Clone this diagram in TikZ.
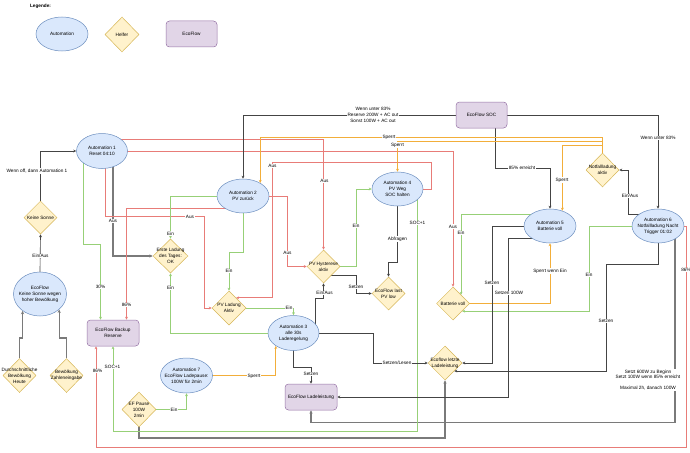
\documentclass[tikz,border=0pt]{standalone}
\usepackage{fontspec}
\setmainfont{Liberation Sans}
\usetikzlibrary{shapes.geometric,arrows.meta}
\definecolor{autoF}{HTML}{DAE8FC}\definecolor{autoD}{HTML}{6C8EBF}
\definecolor{helfF}{HTML}{FFF2CC}\definecolor{helfD}{HTML}{D6B656}
\definecolor{ecoF}{HTML}{E1D5E7}\definecolor{ecoD}{HTML}{9673A6}
\definecolor{lineG}{HTML}{444444}\definecolor{lineT}{HTML}{7A7A7A}
\definecolor{lineR}{HTML}{E87C78}\definecolor{lineGr}{HTML}{97D077}
\definecolor{lineO}{HTML}{F2AE3A}
\pgfdeclarelayer{bgl}\pgfdeclarelayer{edg}
\pgfsetlayers{bgl,edg,main}
\begin{document}
\begin{tikzpicture}[x=1pt,y=-1pt,
  every node/.style={font=\fontsize{4.7}{6}\selectfont},
  txt/.style={align=center,inner sep=0pt},
  autom/.style={ellipse,draw=autoD,fill=autoF,line width=0.5pt,inner sep=0pt,minimum width=52pt,minimum height=34pt},
  helfer/.style={diamond,draw=helfD,fill=helfF,line width=0.5pt,inner sep=0pt,minimum width=34pt,minimum height=34pt},
  ecof/.style={rectangle,rounded corners=3.5pt,draw=ecoD,fill=ecoF,line width=0.5pt,inner sep=0pt,minimum width=52pt,minimum height=26pt},
  tip/.style={-{Stealth[length=3pt,width=2.8pt]}},
  gl/.style={draw=lineG,line width=0.65pt,tip},
  gthick/.style={draw=lineT,line width=1.2pt,-{Stealth[length=3.4pt,width=3.2pt]}},
  rl/.style={draw=lineR,line width=0.75pt,tip},
  grl/.style={draw=lineGr,line width=0.75pt,tip},
  ol/.style={draw=lineO,line width=0.75pt,tip},
  elab/.style={fill=white,inner sep=0.5pt,align=center}]
\useasboundingbox (0,0) rectangle (690,452);
\begin{pgfonlayer}{bgl}
\fill[white] (0,0) rectangle (690,452);
\end{pgfonlayer}
% legend
\node[txt,font=\fontsize{4.7}{6}\selectfont\bfseries] (legt) at (40.5,6) {Legende:};
\node[autom,label={[txt]center:Automation}] (legA) at (62,34) {};
\node[helfer,minimum height=35pt,label={[txt]center:Helfer}] (legH) at (122,34.5) {};
\node[ecof,minimum width=51pt,label={[txt]center:EcoFlow}] (legE) at (191.5,34) {};
% main nodes
\node[autom,minimum width=51pt,minimum height=35pt,label={[txt]center:{Automation 1\\Reset 04:10}}] (a1) at (102,151) {};
\node[helfer,minimum width=33pt,minimum height=33pt,label={[txt]center:{Keine Sonne}}] (ks) at (40.5,217.5) {};
\node[autom,minimum width=53pt,minimum height=44pt,label={[txt]center:{EcoFlow\\Keine Sonne wegen\\hoher Bewölkung}}] (efks) at (40,294) {};
\node[helfer,minimum width=33pt,label={[txt]center:{Durchschnittliche\\Bewölkung\\Heute}}] (dbh) at (19.5,375.5) {};
\node[helfer,minimum width=33pt,label={[txt]center:{Bewölkung\\Zahleneingabe}}] (bz) at (66.5,375.5) {};
\node[ecof,label={[txt]center:{EcoFlow Backup\\Reserve}}] (res) at (113,333) {};
\node[helfer,minimum width=35pt,label={[txt]center:{Erste Ladung\\des Tages:\\OK}}] (elt) at (170.5,256) {};
\node[autom,label={[txt]center:{Automation 2\\PV zurück}}] (a2) at (243,196) {};
\node[helfer,label={[txt]center:{PV Ladung\\Aktiv}}] (pvl) at (229,308) {};
\node[autom,minimum width=51pt,minimum height=35pt,label={[txt]center:{Automation 3\\alle 30s\\Laderegelung}}] (a3) at (293.5,333) {};
\node[helfer,minimum width=33pt,minimum height=33pt,label={[txt]center:{PV Hysterese\\aktiv}}] (pvh) at (323.5,266.5) {};
\node[helfer,minimum width=33pt,minimum height=33pt,label={[txt]center:{EcoFlow last\\PV low}}] (eflp) at (388.5,293.5) {};
\node[autom,minimum width=51pt,label={[txt]center:{Automation 4\\PV Weg\\SOC halten}}] (a4) at (397.5,189) {};
\node[ecof,minimum width=51pt,label={[txt]center:{EcoFlow SOC}}] (soc) at (481.5,115) {};
\node[helfer,minimum width=33pt,label={[txt]center:{Notfallladung\\aktiv}}] (nfa) at (602.5,170) {};
\node[autom,label={[txt]center:{Automation 5\\Batterie voll}}] (a5) at (550,226) {};
\node[autom,label={[txt]center:{Automation 6\\Notfallladung Nacht\\Trigger 01:02}}] (a6) at (658,226) {};
\node[helfer,minimum width=33pt,minimum height=33pt,label={[txt]center:{Batterie voll}}] (bv) at (453,303.5) {};
\node[helfer,label={[txt]center:{Ecoflow letzte\\Ladeleistung}}] (ell) at (445,363) {};
\node[ecof,label={[txt]center:{EcoFlow Ladeleistung}}] (efl) at (311,397) {};
\node[autom,minimum height=35pt,label={[txt]center:{Automation 7\\EcoFlow Ladepause:\\100W für 2min}}] (a7) at (186.5,375.5) {};
\node[helfer,minimum height=35pt,label={[txt]center:{EF Pause\\100W\\2min}}] (efp) at (139,409.5) {};
% connectors
\begin{pgfonlayer}{edg}
\draw[gthick] (efp.center) |- (ell.south |- 0,438) -- (ell.south);
\draw[gthick] (a6.center -| 675,0) |- (efl.south |- 0,422.5) -- (efl.south);
\draw[rl] (a6.center) -- (a6.center -| 686,0) |- (96,447.5) -- (res.south -| 96,0);
\draw[grl] (a4.center -| 417.5,0) |- (res.south |- 0,431.5) -- (res.south);
\draw[gl] (ks.north) |- (a1.west);
\draw[gl] (efks.north) -- (ks.south);
\draw[gthick] (dbh.north) -- (dbh.north |- 0,338) -| (efks.224);
\draw[gthick] (bz.north) -- (bz.north |- 0,338) -| (efks.-39);
\draw[gthick] (a1.center -| 113,0) |- (elt.west);
\draw[grl] (a1.center -| 83,0) |- (100.5,244) -- (res.north -| 100.5,0);
\draw[rl] (a1.center -| 105,0) |- (204,216.5) |- (pvl.west);
\draw[rl] (a2.center |- 0,208) -| (res.north -| 126.5,0);
\draw[grl] (a2.center) |- (pvl.north |- 0,252) -- (pvl.north);
\draw[grl] (a2.center) -| (elt.north);
\draw[grl] (a3.center) -| (elt.south);
\draw[grl] (pvl.east) -| (a3.north);
\draw[rl] (a4.center) -- (a4.center -| 431,0) |- (272,162) |- (pvl.55);
\draw[rl] (a2.center) -| (pvh.west -| 287,0) -- (pvh.west);
\draw[rl] (a1.center |- 0,139) -| (pvh.north);
\draw[rl] (a1.center) -| (bv.north);
\draw[grl] (pvh.east) -- (pvh.east -| 356,0) |- (a4.west);
\draw[gl] (a4.center) -- (a4.center |- 0,262) -| (eflp.north);
\draw[gl] (pvh.center |- 0,275) -- (356,275) |- (eflp.west);
\draw[gl] (a3.center -| 315,0) |- (pvh.south |- 0,298) -- (pvh.south);
\draw[gl] (a3.center) -- (a3.center |- 0,367) -| (efl.north);
\draw[gl] (a3.center) -| (ell.west -| 373,0) -- (ell.west);
\draw[ol] (a7.center) -| (a3.216);
\draw[grl] (efp.center) -| (a7.south);
\draw[grl] (a6.center) -| (bv.-40 -| 589,0) -- (bv.-40);
\draw[grl] (a5.center |- 0,214) -| (bv.47);
\draw[ol] (bv.center) -| (a5.south);
\draw[gl] (soc.center -| 495,0) |- (a5.north |- 0,168) -- (a5.north);
\draw[ol] (nfa.center) -- (nfa.center |- 0,145) -| (a5.51.5);
\draw[ol] (nfa.center) -- (nfa.center |- 0,137) -| (a2.37);
\draw[ol] (nfa.center) -- (nfa.center |- 0,141) -| (a4.north);
\draw[gl] (a6.center |- 0,214) -- (628,214) |- (nfa.east);
\draw[gl] (soc.center) -| (a6.north);
\draw[gl] (soc.center) -| (a2.north);
\draw[gl] (a6.center) |- (606,264) |- (ell.-41.6);
\draw[gl] (a5.center) -| (ell.east -| 492,0) -- (ell.east);
\draw[gl] (a5.center |- 0,238) -| (efl.east -| 508,0) -- (efl.east);
\end{pgfonlayer}
% connector labels
\node[elab] (l1) at (37,171) {Wenn off, dann Automation 1};
\node[elab] (l2) at (40.5,256) {Ein/Aus};
\node[elab] (l3) at (113,221) {Aus};
\node[elab] (l4) at (100.5,287) {30\%};
\node[elab] (l5) at (190,216.5) {Aus};
\node[elab] (l6) at (126.5,305) {86\%};
\node[elab] (l7) at (229,271) {Ein};
\node[elab] (l8) at (170.5,233.5) {Ein};
\node[elab] (l9) at (170.5,288) {Ein};
\node[elab] (l10) at (289,308) {Ein};
\node[elab] (l11) at (272.5,166) {Aus};
\node[elab] (l12) at (287.5,253) {Aus};
\node[elab] (l13) at (324.5,181) {Aus};
\node[elab] (l14) at (453,226.5) {Aus};
\node[elab] (l15) at (356,226) {Ein};
\node[elab] (l16) at (397.5,239) {Abfragen};
\node[elab] (l17) at (356,287) {Setzen};
\node[elab] (l18) at (324.5,293) {Ein/Aus};
\node[elab] (l19) at (311,374) {Setzen};
\node[elab] (l20) at (397,363) {Setzen/Lesen};
\node[elab] (l21) at (254,376) {Sperrt};
\node[elab] (l22) at (174,409.5) {Ein};
\node[elab] (l23) at (417.5,223) {SOC+1};
\node[elab] (l24) at (112.5,367) {SOC+1};
\node[elab] (l25) at (686,270) {86\%};
\node[elab] (l26) at (97.5,371) {86\%};
\node[elab] (l27) at (589,275) {Ein};
\node[elab] (l28) at (461,233) {Ein};
\node[elab] (l29) at (550,271) {Sperrt wenn Ein};
\node[elab] (l30) at (522,168) {85\% erreicht};
\node[elab] (l31) at (562,180) {Sperrt};
\node[elab] (l32) at (389,137) {Sperrt};
\node[elab] (l33) at (397.5,145) {Sperrt};
\node[elab] (l34) at (630,196) {Ein/Aus};
\node[elab] (l35) at (658,138) {Wenn unter 83\%};
\node[elab] (l36) at (373,115) {Wenn unter 83\%\\Reserve 200W + AC out\\Sonst 100W + AC out};
\node[elab] (l37) at (606,321) {Setzen};
\node[elab,font=\fontsize{4.7}{5.6}\selectfont] (l38) at (648,380) {Setzt 600W zu Beginn\\Setzt 100W wenn 85\% erreicht\\[5.6pt]Maximal 2h, danach 100W};
\node[elab] (l39) at (492,283) {Setzen};
\node[elab] (l40) at (509,293) {Setzen 100W};
\end{tikzpicture}
\end{document}
